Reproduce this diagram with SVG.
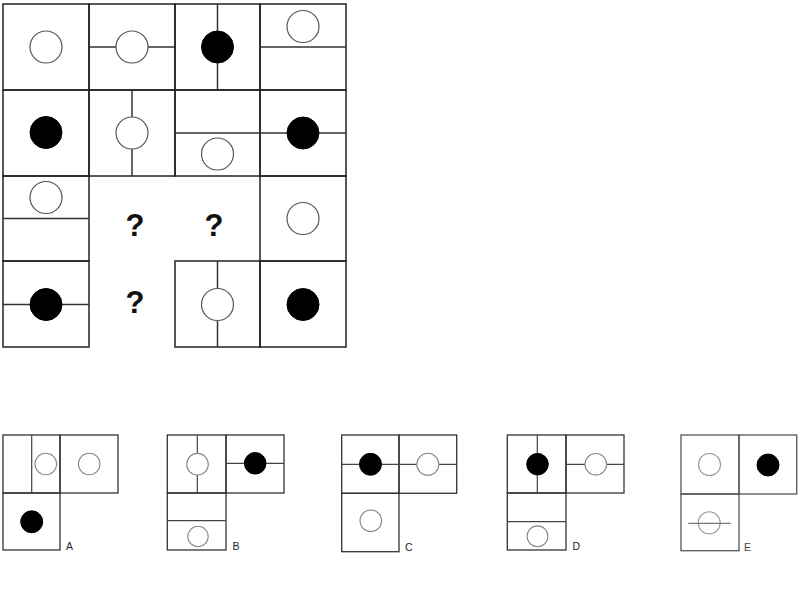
<svg xmlns="http://www.w3.org/2000/svg" width="800" height="600" viewBox="0 0 800 600">
<style>
.cell{fill:none;stroke:#222;stroke-width:1.5}
.ln{stroke:#333;stroke-width:1.5;fill:none}
.w{fill:#fff;stroke:#555;stroke-width:1.2}
.b{fill:#000;stroke:#000;stroke-width:1}
.ocell{fill:none;stroke:#333;stroke-width:1.3}
.oln{stroke:#444;stroke-width:1.2;fill:none}
.ow{fill:#fff;stroke:#888;stroke-width:1.1}
.q{font-family:"Liberation Sans",Arial,sans-serif;font-weight:bold;font-size:31px;fill:#111;text-anchor:middle}
.lab{font-family:"Liberation Sans",Arial,sans-serif;font-size:10.5px;fill:#222}
</style>
<rect width="800" height="600" fill="#fff"/>
<g id="grid">
<g id="r1c1"><rect class="cell" x="3" y="4" width="86" height="86"/><circle class="w" cx="46" cy="47" r="16"/></g>
<g id="r1c2"><rect class="cell" x="89" y="4" width="86" height="86"/><line class="ln" x1="89" y1="47" x2="175" y2="47"/><circle class="w" cx="132" cy="47" r="16"/></g>
<g id="r1c3"><rect class="cell" x="175" y="4" width="85" height="86"/><line class="ln" x1="217.5" y1="4" x2="217.5" y2="90"/><circle class="b" cx="217.5" cy="47" r="16"/></g>
<g id="r1c4"><rect class="cell" x="260" y="4" width="86" height="86"/><line class="ln" x1="260" y1="47" x2="346" y2="47"/><circle class="w" cx="303" cy="26.5" r="16"/></g>
<g id="r2c1"><rect class="cell" x="3" y="90" width="86" height="86"/><circle class="b" cx="46" cy="132.5" r="16"/></g>
<g id="r2c2"><rect class="cell" x="89" y="90" width="86" height="86"/><line class="ln" x1="132" y1="90" x2="132" y2="176"/><circle class="w" cx="132" cy="133" r="16"/></g>
<g id="r2c3"><rect class="cell" x="175" y="90" width="85" height="86"/><line class="ln" x1="175" y1="133" x2="260" y2="133"/><circle class="w" cx="217.5" cy="154" r="16"/></g>
<g id="r2c4"><rect class="cell" x="260" y="90" width="86" height="86"/><line class="ln" x1="260" y1="133" x2="346" y2="133"/><circle class="b" cx="303" cy="133" r="16"/></g>
<g id="r3c1"><rect class="cell" x="3" y="176" width="86" height="85"/><line class="ln" x1="3" y1="218.5" x2="89" y2="218.5"/><circle class="w" cx="46" cy="197.5" r="16"/></g>
<g id="r3c4"><rect class="cell" x="260" y="176" width="86" height="85"/><circle class="w" cx="303" cy="218.5" r="16"/></g>
<g id="r4c1"><rect class="cell" x="3" y="261" width="86" height="86"/><line class="ln" x1="3" y1="304.5" x2="89" y2="304.5"/><circle class="b" cx="46" cy="304.5" r="16"/></g>
<g id="r4c3"><rect class="cell" x="175" y="261" width="85" height="86"/><line class="ln" x1="217.5" y1="261" x2="217.5" y2="347"/><circle class="w" cx="217.5" cy="304.5" r="16"/></g>
<g id="r4c4"><rect class="cell" x="260" y="261" width="86" height="86"/><circle class="b" cx="303" cy="304.5" r="16"/></g>
<g id="q1"><text class="q" x="135" y="236">?</text></g>
<g id="q2"><text class="q" x="214" y="236">?</text></g>
<g id="q3"><text class="q" x="135" y="313">?</text></g>
</g>
<g id="optA">
<rect class="ocell" x="3" y="435" width="57" height="58"/><line class="oln" x1="31.7" y1="435" x2="31.7" y2="493"/><circle class="ow" cx="45.8" cy="464" r="10.8"/>
<rect class="ocell" x="60" y="435" width="58" height="58"/><circle class="ow" cx="89.2" cy="464" r="10.8"/>
<rect class="ocell" x="3" y="493" width="57" height="57"/><circle class="b" cx="31.7" cy="521.8" r="11"/>
<text class="lab" x="66" y="550">A</text>
</g>
<g id="optB">
<rect class="ocell" x="167.3" y="435" width="58.7" height="58"/><line class="oln" x1="197.3" y1="435" x2="197.3" y2="493"/><circle class="ow" cx="197.5" cy="464.2" r="10.8"/>
<rect class="ocell" x="226" y="435" width="58" height="58"/><line class="oln" x1="226" y1="463.3" x2="284" y2="463.3"/><circle class="b" cx="255.2" cy="463.3" r="10.8"/>
<rect class="ocell" x="167.3" y="493" width="58.7" height="57"/><line class="oln" x1="167.3" y1="520.7" x2="226" y2="520.7"/><circle class="ow" cx="198" cy="536.5" r="10.2"/>
<text class="lab" x="232.5" y="550">B</text>
</g>
<g id="optC">
<rect class="ocell" x="341.7" y="435" width="57.3" height="58.3"/><rect class="ocell" x="399" y="435" width="57.7" height="58.3"/>
<line class="oln" x1="341.7" y1="464.3" x2="456.7" y2="464.3"/>
<circle class="b" cx="370.5" cy="464.3" r="11"/><circle class="ow" cx="427.8" cy="464.3" r="11"/>
<rect class="ocell" x="341.7" y="493.3" width="57.3" height="58.4"/><circle class="ow" cx="370.8" cy="520.8" r="10.8"/>
<text class="lab" x="405" y="551">C</text>
</g>
<g id="optD">
<rect class="ocell" x="507.3" y="435" width="58.7" height="58"/><line class="oln" x1="537.3" y1="435" x2="537.3" y2="493"/><circle class="b" cx="537.5" cy="464.2" r="10.8"/>
<rect class="ocell" x="566" y="435" width="58" height="58"/><line class="oln" x1="566" y1="464.3" x2="624" y2="464.3"/><circle class="ow" cx="595.8" cy="464.3" r="10.8"/>
<rect class="ocell" x="507.3" y="493" width="58.7" height="57"/><line class="oln" x1="507.3" y1="521.7" x2="566" y2="521.7"/><circle class="ow" cx="537.5" cy="536.3" r="10.4"/>
<text class="lab" x="572.5" y="550">D</text>
</g>
<g id="optE">
<rect class="ocell" x="681" y="435" width="58" height="59" style="stroke:#555"/><circle class="ow" cx="709.5" cy="464.5" r="11" style="stroke:#999"/>
<rect class="ocell" x="739" y="435" width="57.7" height="59" style="stroke:#555"/><circle class="b" cx="768" cy="465" r="11"/>
<rect class="ocell" x="681" y="494" width="58" height="56.7" style="stroke:#555"/><circle class="ow" cx="709.2" cy="522.8" r="11" style="stroke:#999"/>
<line class="oln" x1="688.3" y1="523.3" x2="730.7" y2="523.3" style="stroke:#777"/>
<text class="lab" x="744" y="551" style="fill:#444">E</text>
</g>
</svg>
